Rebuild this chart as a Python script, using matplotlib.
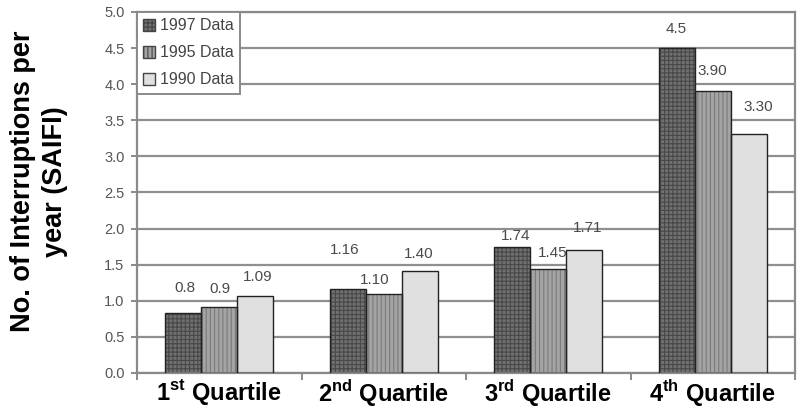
import numpy as np
import matplotlib.pyplot as plt
from matplotlib.patches import Patch

plt.rcParams['font.family'] = ['Liberation Sans', 'DejaVu Sans']
plt.rcParams['mathtext.fontset'] = 'custom'
plt.rcParams['mathtext.bf'] = 'Liberation Sans:bold'
plt.rcParams['mathtext.rm'] = 'Liberation Sans'
plt.rcParams['hatch.linewidth'] = 0.8

# --- Data ---
categories = [r"1$^{\mathbf{st}}$ Quartile", r"2$^{\mathbf{nd}}$ Quartile",
              r"3$^{\mathbf{rd}}$ Quartile", r"4$^{\mathbf{th}}$ Quartile"]
series_names = ['1997 Data', '1995 Data', '1990 Data']
data_1997 = [0.83, 1.17, 1.74, 4.50]
data_1995 = [0.91, 1.10, 1.44, 3.91]
data_1990 = [1.07, 1.41, 1.71, 3.31]
labels_1997 = ['0.8', '1.16', '1.74', '4.5']
labels_1995 = ['0.9', '1.10', '1.45', '3.90']
labels_1990 = ['1.09', '1.40', '1.71', '3.30']

# label offsets in pixels (dx, dy) from the top centre of each bar
offsets_1997 = [(2, 25), (-3, 39), (3, 11), (-1, 19)]
offsets_1995 = [(1, 18), (-9, 14), (4, 16), (0, 20)]
offsets_1990 = [(2, 19), (-1, 17), (3, 22), (9, 27)]

# --- Styles ---
faces = ['#707070', '#a4a4a4', '#e0e0e0']
hatch_cols = ['#484848', '#7a7a7a', '#e0e0e0']
hatches = ['++++', '||||', '']

fig = plt.figure(figsize=(7.99, 4.13), dpi=100)
ax = fig.add_axes([0.1715, 0.0969, 0.8235, 0.8741])

x = np.arange(len(categories))
w = 0.219
all_vals = [data_1997, data_1995, data_1990]
all_labels = [labels_1997, labels_1995, labels_1990]
all_offsets = [offsets_1997, offsets_1995, offsets_1990]

for i, vals in enumerate(all_vals):
    xs = x + (i - 1) * w
    ax.bar(xs, vals, w, color=faces[i], edgecolor=hatch_cols[i],
           hatch=hatches[i], linewidth=0, zorder=2)
    ax.bar(xs, vals, w, fill=False, edgecolor='#222222', linewidth=1.0, zorder=3)
    for xi, v, lab, off in zip(xs, vals, all_labels[i], all_offsets[i]):
        ax.annotate(lab, (xi, v), xytext=off, textcoords='offset pixels',
                    ha='center', va='center', fontsize=11, color='#4a4a4a')

ax.set_xlim(-0.5, 3.5)
ax.set_ylim(0, 5.0)
ax.set_yticks(np.arange(0, 5.01, 0.5))
ax.set_yticklabels([f'{t:.1f}' for t in np.arange(0, 5.01, 0.5)],
                   fontsize=10.5, color='#555555')
ax.set_xticks(x)
ax.set_xticklabels(categories, fontsize=17, fontweight='bold')
ax.tick_params(axis='x', length=0, pad=3)
ax.set_xticks(np.arange(-0.5, 3.6, 1.0), minor=True)
ax.tick_params(axis='x', which='minor', length=5, color='#777777', width=1.2)
ax.tick_params(axis='y', length=4, color='#777777', width=1.2, pad=5)

ax.yaxis.grid(True, color='#8f8f8f', linewidth=1.6)
ax.set_axisbelow(True)
for side in ['left', 'bottom', 'right', 'top']:
    ax.spines[side].set_color('#8a8a8a')
    ax.spines[side].set_linewidth(1.6)

ax.set_ylabel('No. of Interruptions per\nyear (SAIFI)', fontsize=19.5,
              fontweight='bold', linespacing=1.3, va='center')
ax.yaxis.set_label_coords(-0.149, 0.53)

handles = [Patch(facecolor=faces[i], edgecolor='#444444', hatch=hatches[i])
           for i in range(3)]
leg = ax.legend(handles, series_names, loc='upper left', fontsize=11.5,
                handlelength=0.75, handleheight=0.75, handletextpad=0.3,
                borderaxespad=0.0, borderpad=0.4, labelspacing=0.75,
                fancybox=False, framealpha=1, labelcolor='#444444')
leg.get_frame().set_edgecolor('#8a8a8a')
leg.get_frame().set_linewidth(1.4)

fig.savefig('out.png', dpi=100)
